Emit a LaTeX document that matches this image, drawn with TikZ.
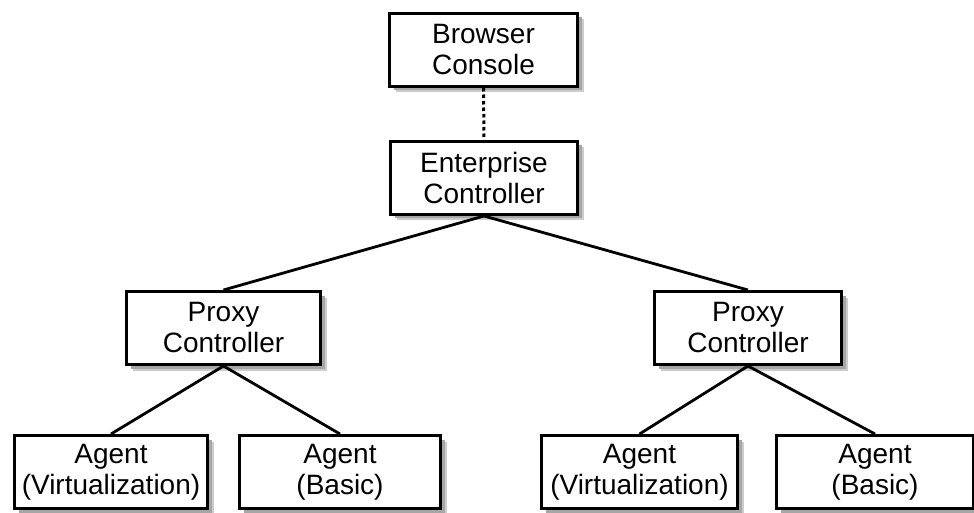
\documentclass[tikz,border=0pt]{standalone}
\usepackage{fontspec}
\setmainfont{Liberation Sans}
\usetikzlibrary{shadows}
\begin{document}
\begin{tikzpicture}[x=1pt,y=1pt,
  box/.style={draw=black, line width=3pt, fill=white, align=center,
    minimum height=73pt, inner sep=0pt,
    font=\fontsize{28}{31}\selectfont,
    general shadow={fill=gray!40, shadow xshift=6pt, shadow yshift=-6pt},
    general shadow={fill=gray!70, shadow xshift=4pt, shadow yshift=-4pt}},
  link/.style={line width=2.8pt},
  dotlink/.style={line width=3pt, dash pattern=on 3.5pt off 3pt}]
\useasboundingbox (0,0) rectangle (974,512);
\node[box, minimum width=188pt] (bc) at (483.5,462) {Browser\\Console};
\node[box, minimum width=187pt] (ec) at (484,334) {Enterprise\\Controller};
\node[box, minimum width=194pt] (pl) at (223.5,184) {Proxy\\Controller};
\node[box, minimum width=187pt] (pr) at (748,184) {Proxy\\Controller};
\node[box, minimum width=193pt] (a1) at (111,40) {Agent\\(Virtualization)};
\node[box, minimum width=201pt] (a2) at (340,40) {Agent\\(Basic)};
\node[box, minimum width=196pt] (a3) at (639.5,40) {Agent\\(Virtualization)};
\node[box, minimum width=197pt] (a4) at (875,40) {Agent\\(Basic)};
\draw[dotlink] (bc.south) -- (ec.north);
\draw[link] (ec.south) -- (pl.north);
\draw[link] (ec.south) -- (pr.north);
\draw[link] (pl.south) -- (a1.north);
\draw[link] (pl.south) -- (a2.north);
\draw[link] (pr.south) -- (a3.north);
\draw[link] (pr.south) -- (a4.north);
\end{tikzpicture}
\end{document}
